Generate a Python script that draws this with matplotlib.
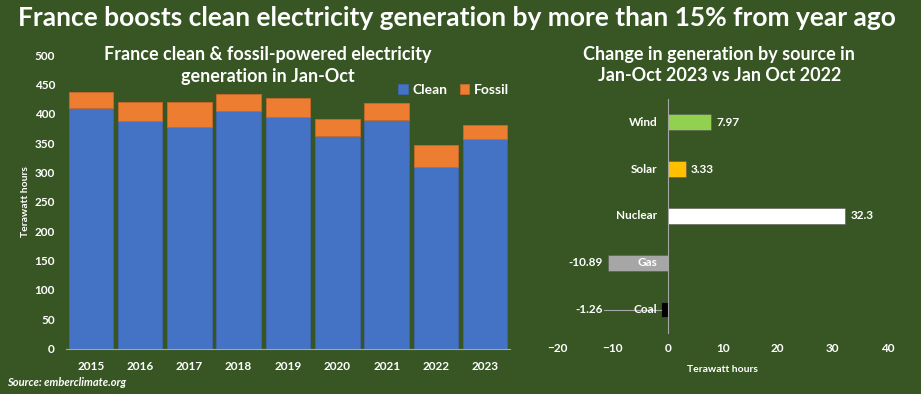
import numpy as np
import matplotlib.pyplot as plt

# left chart data (TWh, Jan-Oct)
years = ['2015', '2016', '2017', '2018', '2019', '2020', '2021', '2022', '2023']
clean = [410, 388, 377, 405, 394, 362, 389, 309, 357]
fossil = [27, 33, 43, 29, 33, 30, 29, 38, 24]

# right chart data (change 2023 vs 2022, TWh)
sources = ['Wind', 'Solar', 'Nuclear', 'Gas', 'Coal']
change = [7.97, 3.33, 32.3, -10.89, -1.26]
change_labels = ['7.97', '3.33', '32.3', '-10.89', '-1.26']
source_colors = ['#92D050', '#FFC000', '#FFFFFF', '#A6A6A6', '#000000']

bg = '#375623'
plt.rcParams['font.family'] = ['Lato', 'DejaVu Sans']
plt.rcParams['font.weight'] = 'bold'

fig = plt.figure(figsize=(9.21, 3.94), dpi=100, facecolor=bg)

fig.text(0.496, 0.955, 'France boosts clean electricity generation by more than 15% from year ago',
         ha='center', va='center', color='white', fontsize=19, fontweight='bold')
fig.text(0.008, 0.028, 'Source: emberclimate.org', ha='left', va='center',
         color='white', fontsize=8, fontweight='bold', style='italic')

# --- left: stacked bars ---
ax1 = fig.add_axes([0.0717, 0.115, 0.482, 0.745])
ax1.set_facecolor(bg)
x = np.arange(len(years))
ax1.bar(x, clean, width=0.9, color='#4472C4', edgecolor='#3f65ad', linewidth=0.6, label='Clean')
ax1.bar(x, fossil, bottom=clean, width=0.9, color='#ED7D31', edgecolor='#c9692a', linewidth=0.6, label='Fossil')
ax1.set_xlim(-0.5, len(years) - 0.5)
ax1.set_ylim(0, 500)
ax1.set_yticks(range(0, 501, 50))
ax1.set_xticks(x)
ax1.set_xticklabels(years)
for s in ['top', 'right', 'left']:
    ax1.spines[s].set_visible(False)
ax1.spines['bottom'].set_color('#a6a6a6')
ax1.tick_params(length=0, colors='white', labelsize=8.5)
ax1.tick_params(axis='x', pad=9)
ax1.tick_params(axis='y', pad=8)
for lab in ax1.get_xticklabels() + ax1.get_yticklabels():
    lab.set_fontweight('bold')
ax1.set_ylabel('Terawatt hours', color='white', fontsize=7.5, fontweight='bold', labelpad=3)
ax1.text(0.455, 0.966, 'France clean & fossil-powered electricity\ngeneration in Jan-Oct',
         transform=ax1.transAxes, ha='center', va='center', color='white',
         fontsize=13, fontweight='bold', linespacing=1.35)
leg = ax1.legend(loc='upper right', bbox_to_anchor=(1.025, 0.945), ncol=2, frameon=False,
                 fontsize=10, handlelength=0.7, handleheight=0.7, handletextpad=0.3,
                 columnspacing=0.9)
for t in leg.get_texts():
    t.set_color('white')
    t.set_fontweight('bold')

# --- right: horizontal change bars ---
ax2 = fig.add_axes([0.6055, 0.155, 0.3583, 0.594])
ax2.set_facecolor(bg)
y = np.arange(len(sources))
ax2.barh(y, change, height=0.34, color=source_colors, edgecolor='#595959', linewidth=0.4)
ax2.set_xlim(-20, 40)
ax2.set_ylim(len(sources) - 0.5, -0.5)
ax2.set_xticks(range(-20, 41, 10))
ax2.set_yticks([])
for s in ['top', 'right', 'bottom']:
    ax2.spines[s].set_visible(False)
ax2.spines['left'].set_position(('data', 0))
ax2.spines['left'].set_color('#a6a6a6')
ax2.tick_params(length=0, colors='white', labelsize=8.5, pad=7)
for lab in ax2.get_xticklabels():
    lab.set_fontweight('bold')
ax2.set_xlabel('Terawatt hours', color='white', fontsize=7.5, fontweight='bold', labelpad=8)
for yi, name, val, txt in zip(y, sources, change, change_labels):
    ax2.text(-1.9, yi, name, ha='right', va='center', color='white', fontsize=8.5, fontweight='bold')
    if val >= 0:
        ax2.text(val + 0.9, yi, txt, ha='left', va='center', color='white', fontsize=8.5, fontweight='bold')
    else:
        xl = min(val, -10.89) - 0.9
        ax2.text(xl, yi, txt, ha='right', va='center', color='white', fontsize=8.5, fontweight='bold')
        if val > -10:
            ax2.plot([xl + 0.3, val], [yi, yi], color='#a6a6a6', lw=0.8, zorder=1)
ax2.text(0.49, 1.145, 'Change in generation by source in\nJan-Oct 2023 vs Jan Oct 2022',
         transform=ax2.transAxes, ha='center', va='center', color='white',
         fontsize=13, fontweight='bold', linespacing=1.35)

fig.savefig('out.png', dpi=100, facecolor=bg)
